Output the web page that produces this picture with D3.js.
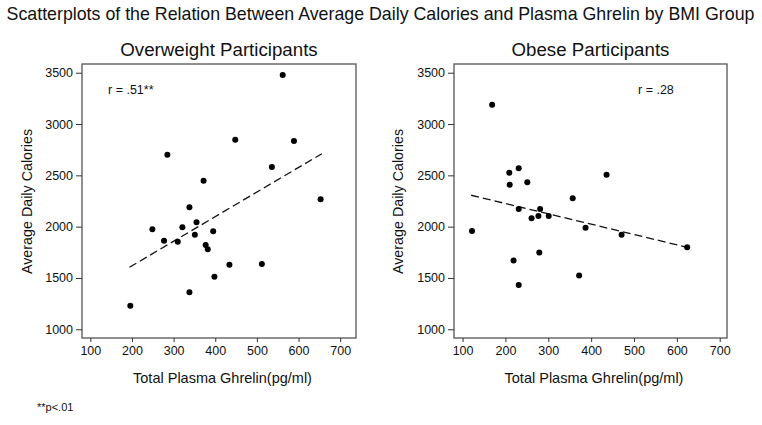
<!DOCTYPE html>
<html><head><meta charset="utf-8">
<script src="https://cdn.jsdelivr.net/npm/d3@7"></script>
<style>
body{margin:0;background:#fff;}
text{font-family:"Liberation Sans",Arial,Helvetica,sans-serif;fill:#111;}
</style></head>
<body><svg id="c" width="762" height="425"></svg>
<script>
// ---- data ----
const chartTitle = "Scatterplots of the Relation Between Average Daily Calories and Plasma Ghrelin by BMI Group";
const panelTitles = ["Overweight Participants", "Obese Participants"];
const xTicks = [100, 200, 300, 400, 500, 600, 700];
const yTicks = [1000, 1500, 2000, 2500, 3000, 3500];
const xLabel = "Total Plasma Ghrelin(pg/ml)";
const yLabel = "Average Daily Calories";
const footnote = "**p<.01";

const overweightGhrelin = [562, 448, 589, 285, 536, 372, 653, 338, 355, 249, 321, 395, 351, 277, 310, 377, 382, 434, 512, 398, 338, 196];
const overweightCalories = [3478, 2847, 2835, 2701, 2581, 2448, 2267, 2189, 2043, 1974, 1994, 1955, 1922, 1863, 1854, 1822, 1780, 1630, 1636, 1513, 1361, 1230];
const overweightFitX = [194, 656];
const overweightFitY = [1604, 2711];
const overweightR = "r = .51**";

const obeseGhrelin = [169, 231, 209, 436, 210, 251, 357, 231, 281, 261, 277, 301, 122, 387, 471, 624, 279, 219, 372, 231];
const obeseCalories = [3188, 2569, 2526, 2506, 2409, 2432, 2277, 2172, 2172, 2082, 2104, 2104, 1958, 1990, 1922, 1799, 1747, 1669, 1523, 1432];
const obeseFitX = [120, 624];
const obeseFitY = [2306, 1799];
const obeseR = "r = .28";

// ---- drawing ----
(function () {
const svg = d3.select("#c");

svg.append("text").attr("x", 380.5).attr("y", 20)
  .attr("text-anchor", "middle").style("font-size", "17.8px").text(chartTitle);

svg.append("text").attr("x", 37).attr("y", 411).style("font-size", "11px").text(footnote);

const panels = [
  {left: 82, right: 356, xDom: [80, 738], gx: overweightGhrelin, gy: overweightCalories,
   fx: overweightFitX, fy: overweightFitY, r: overweightR, rx: 108, title: panelTitles[0], ylabX: 27},
  {left: 454, right: 727, xDom: [80, 717], gx: obeseGhrelin, gy: obeseCalories,
   fx: obeseFitX, fy: obeseFitY, r: obeseR, rx: 638, title: panelTitles[1], ylabX: 398}
];
const plotTop = 64, plotBottom = 338;
const y = d3.scaleLinear().domain([915, 3585]).range([plotBottom, plotTop]);

panels.forEach(p => {
  const x = d3.scaleLinear().domain(p.xDom).range([p.left, p.right]);
  const g = svg.append("g");
  const cx = (p.left + p.right) / 2;

  g.append("text").attr("x", cx).attr("y", 56).attr("text-anchor", "middle")
    .style("font-size", "18.7px").text(p.title);

  g.append("rect").attr("x", p.left).attr("y", plotTop)
    .attr("width", p.right - p.left).attr("height", plotBottom - plotTop)
    .attr("fill", "none").attr("stroke", "#555").attr("stroke-width", 1.3);

  const xa = g.append("g").attr("transform", `translate(0,${plotBottom})`)
    .call(d3.axisBottom(x).tickValues(xTicks).tickFormat(d3.format("d"))
      .tickSize(4).tickPadding(4).tickSizeOuter(0));
  xa.select(".domain").remove();
  xa.selectAll("line").attr("stroke", "#333");
  xa.selectAll("text").style("font-size", "12.5px").attr("fill", "#111");

  const ya = g.append("g").attr("transform", `translate(${p.left},0)`)
    .call(d3.axisLeft(y).tickValues(yTicks).tickFormat(d3.format("d"))
      .tickSize(6).tickPadding(3).tickSizeOuter(0));
  ya.select(".domain").remove();
  ya.selectAll("line").attr("stroke", "#333");
  ya.selectAll("text").style("font-size", "12.5px").attr("fill", "#111");

  g.append("text").attr("x", cx + 3.5).attr("y", 383).attr("text-anchor", "middle")
    .style("font-size", "14.5px").text(xLabel);
  g.append("text").attr("transform", `translate(${p.ylabX + 5},201.5) rotate(-90)`)
    .attr("text-anchor", "middle").style("font-size", "14.3px").text(yLabel);

  g.append("line")
    .attr("x1", x(p.fx[0])).attr("y1", y(p.fy[0]))
    .attr("x2", x(p.fx[1])).attr("y2", y(p.fy[1]))
    .attr("stroke", "#111").attr("stroke-width", 1.3).attr("stroke-dasharray", "8,4");

  g.selectAll("circle.pt").data(p.gx.map((v, i) => [v, p.gy[i]])).join("circle")
    .attr("class", "pt").attr("cx", d => x(d[0])).attr("cy", d => y(d[1]))
    .attr("r", 3).attr("fill", "#000");

  g.append("text").attr("x", p.rx).attr("y", 94)
    .style("font-size", "12.5px").text(p.r);
});
})();
</script></body></html>
